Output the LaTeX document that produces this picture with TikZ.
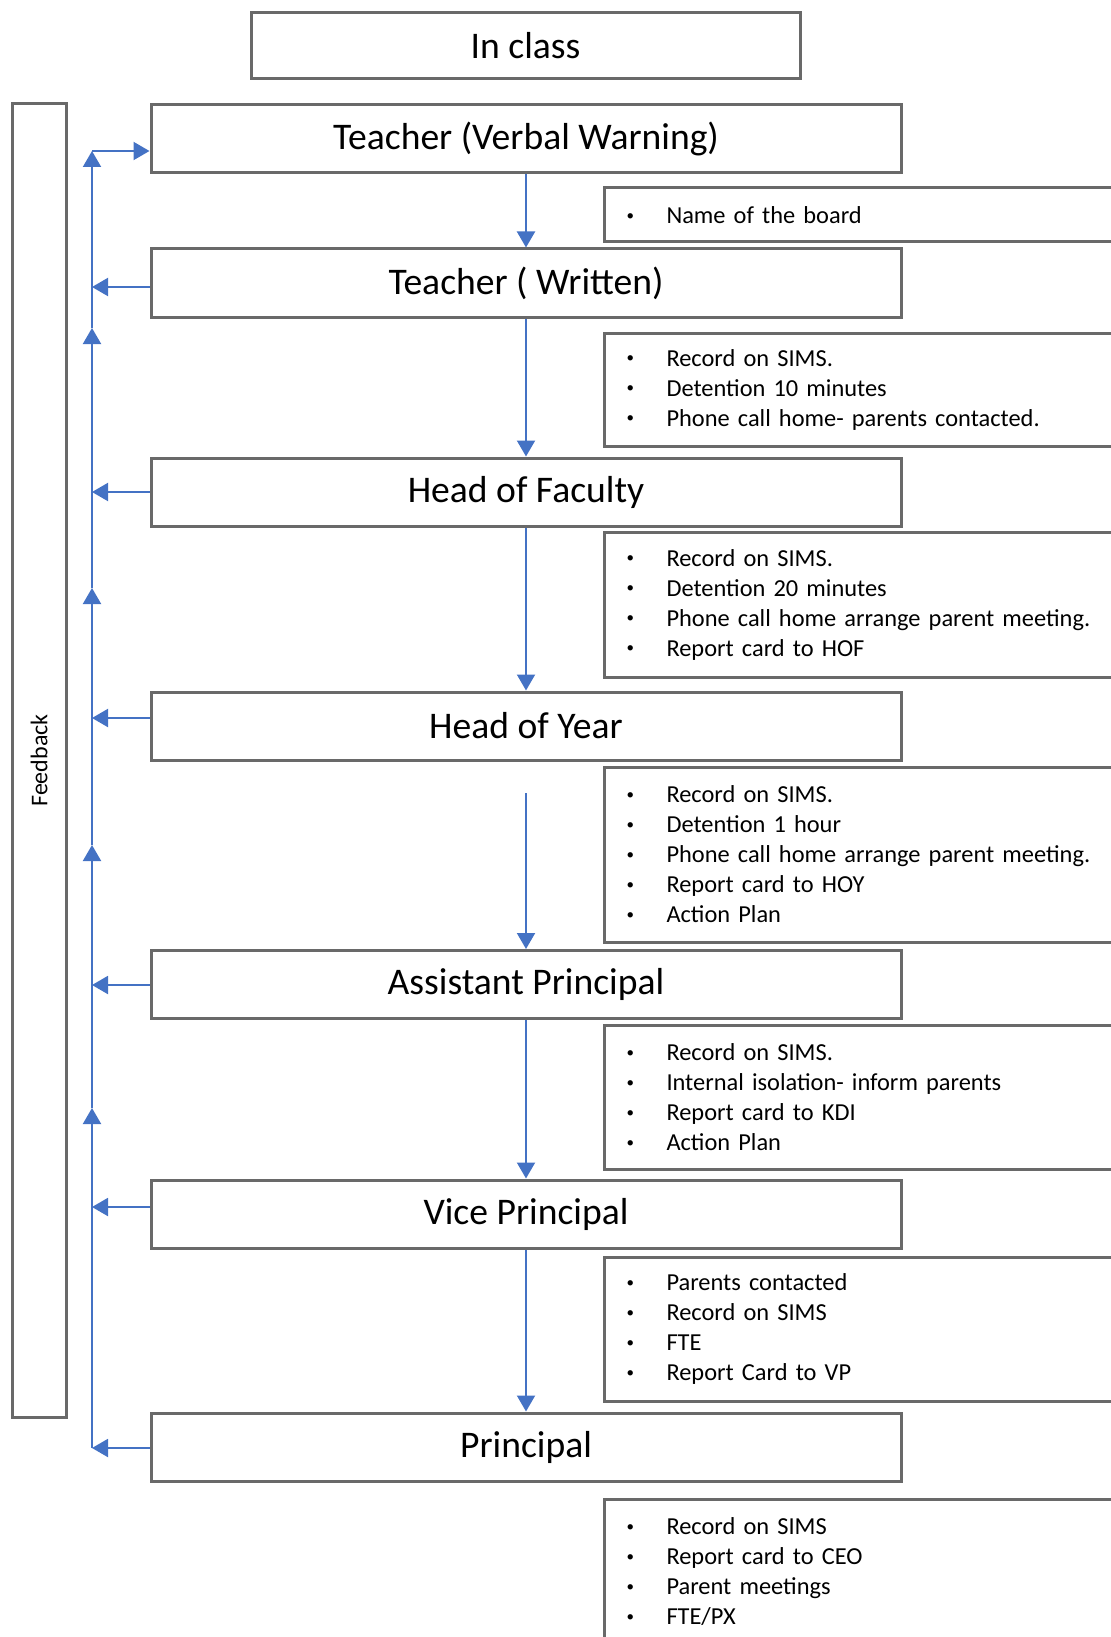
\documentclass[tikz,border=0pt]{standalone}
\usepackage{fontspec}
\setmainfont{Carlito}
\usetikzlibrary{arrows.meta}
\definecolor{fbblue}{RGB}{68,114,196}
\definecolor{boxgrey}{RGB}{105,105,105}
\newcommand{\bl}[1]{\makebox[20pt][l]{\raisebox{1.6pt}{\fontsize{7.5}{7.5}\selectfont\textbullet}}#1}

\begin{document}
\begin{tikzpicture}[x=0.5pt,y=-0.5pt,
    stage/.style={draw=boxgrey,line width=1.5pt,minimum width=375pt,minimum height=34pt,inner sep=0pt,font=\fontsize{18.8}{22}\selectfont},
    notes/.style={draw=boxgrey,line width=1.5pt,anchor=west,text width=240pt,inner xsep=11pt,inner ysep=0pt,align=left,font=\fontsize{12.2}{15}\selectfont},
    fb/.style={fbblue,line width=1pt,-{Triangle[length=8pt,width=9pt]}}]
    \useasboundingbox (0,0) rectangle (1110,1637);

    \node[stage,minimum width=274.5pt,minimum height=33pt] (inclass) at (525.5,46) {In class};
    \node[draw=boxgrey,line width=1.5pt,rotate=90,minimum width=656.5pt,minimum height=26.75pt,inner sep=0pt,font=\fontsize{12}{14}\selectfont] (feedback) at (39.25,760.5) {Feedback};

    \node[stage] (tv) at (526,138.5) {Teacher (Verbal Warning)};
    \node[stage] (tw) at (526,283) {Teacher ( Written)};
    \node[stage] (hof) at (526,492) {Head of Faculty};
    \node[stage] (hoy) at (526,726) {Head of Year};
    \node[stage] (ap) at (526,984.5) {Assistant Principal};
    \node[stage] (vp) at (526,1214) {Vice Principal};
    \node[stage] (pr) at (526,1447) {Principal};

    \node[notes,minimum height=27pt] (n1) at (603,215) {\bl{Name of the board}};
    \node[notes,minimum height=56.5pt] (n2) at (603,389.5) {\bl{Record on SIMS.}\\\bl{Detention 10 minutes}\\\bl{Phone call home- parents contacted.}};
    \node[notes,minimum height=72.5pt] (n3) at (603,604.5) {\bl{Record on SIMS.}\\\bl{Detention 20 minutes}\\\bl{Phone call home arrange parent meeting.}\\\bl{Report card to HOF}};
    \node[notes,minimum height=87.5pt] (n4) at (603,854.5) {\bl{Record on SIMS.}\\\bl{Detention 1 hour}\\\bl{Phone call home arrange parent meeting.}\\\bl{Report card to HOY}\\\bl{Action Plan}};
    \node[notes,minimum height=72pt] (n5) at (603,1097) {\bl{Record on SIMS.}\\\bl{Internal isolation- inform parents}\\\bl{Report card to KDI}\\\bl{Action Plan}};
    \node[notes,minimum height=72pt] (n6) at (603,1329) {\bl{Parents contacted}\\\bl{Record on SIMS}\\\bl{FTE}\\\bl{Report Card to VP}};
    \node[notes,minimum height=72.5pt] (n7) at (603,1571.5) {\bl{Record on SIMS}\\\bl{Report card to CEO}\\\bl{Parent meetings}\\\bl{FTE/PX}};

    \draw[fb] (tv.south) -- (tw.north);
    \draw[fb] (tw.south) -- (hof.north);
    \draw[fb] (hof.south) -- (hoy.north);
    \coordinate (hoyout) at (526,793);
    \draw[fb] (hoyout) -- (ap.north);
    \draw[fb] (ap.south) -- (vp.north);
    \draw[fb] (vp.south) -- (pr.north);

    \coordinate (top) at (92,151);
    \coordinate (up1) at (92,328);
    \coordinate (up2) at (92,588);
    \coordinate (up3) at (92,845);
    \coordinate (up4) at (92,1108);
    \coordinate (rtw) at (92,287);
    \coordinate (rhof) at (92,492);
    \coordinate (rhoy) at (92,718);
    \coordinate (rap) at (92,985);
    \coordinate (rvp) at (92,1207);
    \coordinate (rpr) at (92,1448);

    \draw[fb] (tw.west |- rtw) -- (rtw);
    \draw[fb] (hof.west |- rhof) -- (rhof);
    \draw[fb] (hoy.west |- rhoy) -- (rhoy);
    \draw[fb] (ap.west |- rap) -- (rap);
    \draw[fb] (vp.west |- rvp) -- (rvp);
    \draw[fb] (pr.west |- rpr) -- (rpr);

    \draw[fb] (rpr) -- (up4);
    \draw[fb] (up4) -- (up3);
    \draw[fb] (up3) -- (up2);
    \draw[fb] (up2) -- (up1);
    \draw[fb] (up1) -- (top);
    \draw[fb] (top) -- (tv.west |- top);
\end{tikzpicture}
\end{document}
